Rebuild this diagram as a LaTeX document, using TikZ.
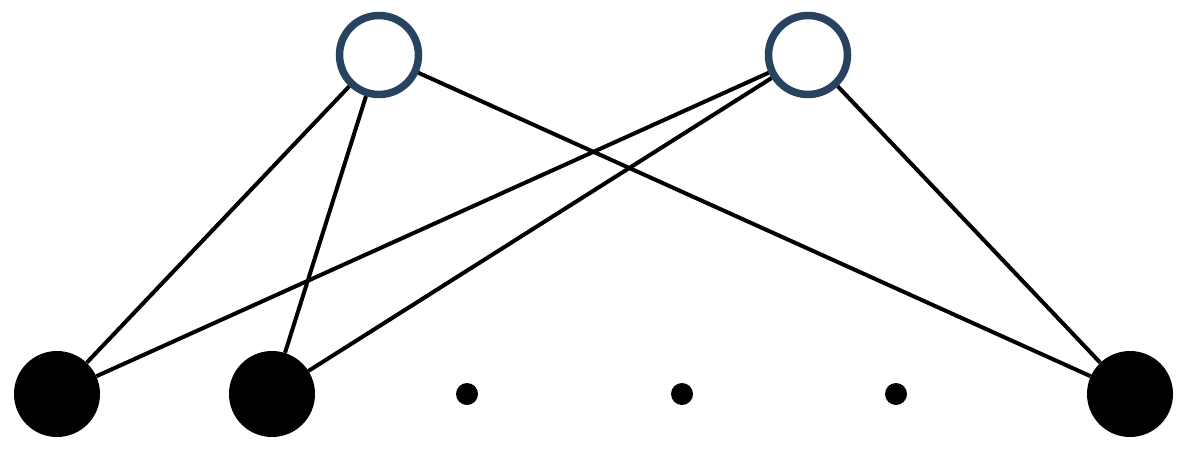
\documentclass[tikz,border=0pt]{standalone}
\definecolor{topblue}{HTML}{27435F}
\begin{document}
\begin{tikzpicture}[x=1pt,y=-1pt,
  topnode/.style={circle,draw=topblue,fill=white,line width=7.5pt,minimum size=79pt,inner sep=0pt},
  botnode/.style={circle,fill=black,minimum size=86pt,inner sep=0pt},
  dotnode/.style={circle,fill=black,minimum size=22pt,inner sep=0pt},
  edge/.style={draw=black,line width=4pt}]
\useasboundingbox (0,0) rectangle (1183,450);
\node[topnode] (t1) at (379,55) {};
\node[topnode] (t2) at (808,55) {};
\node[botnode] (b1) at (57,394) {};
\node[botnode] (b2) at (272,394) {};
\node[botnode] (b3) at (1130,394) {};
\node[dotnode] (d1) at (467,394) {};
\node[dotnode] (d2) at (682,394) {};
\node[dotnode] (d3) at (896,394) {};
\path[edge] (t1) -- (b1);
\path[edge] (t1) -- (b2);
\path[edge] (t1) -- (b3);
\path[edge] (t2) -- (b1);
\path[edge] (t2) -- (b2);
\path[edge] (t2) -- (b3);
\end{tikzpicture}
\end{document}
